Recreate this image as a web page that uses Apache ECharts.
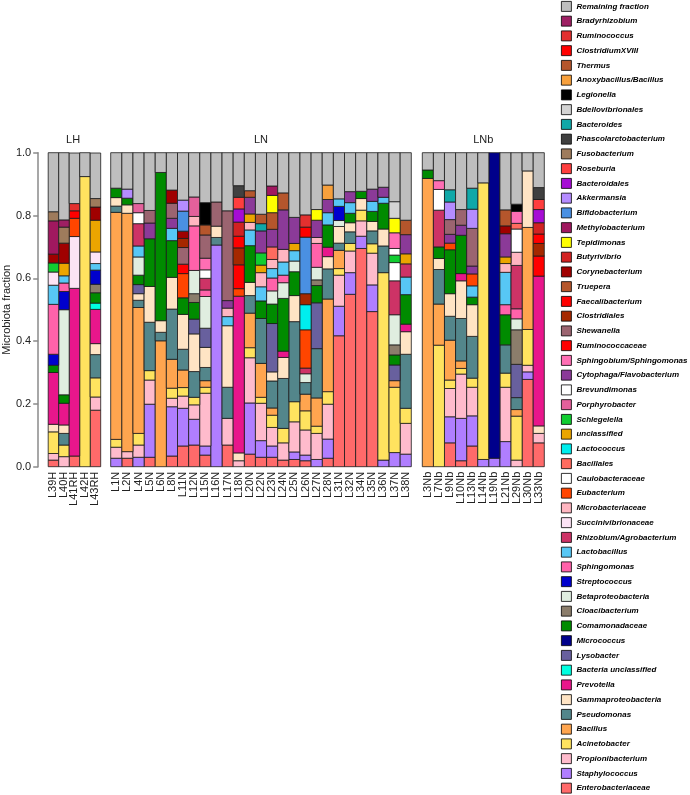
<!DOCTYPE html>
<html><head><meta charset="utf-8">
<script src="https://cdn.jsdelivr.net/npm/echarts@6/dist/echarts.min.js"></script>
<style>html,body{margin:0;padding:0;background:#fff}#c{width:690px;height:795px}</style>
</head><body><div id="c"></div>
<script>
// Legend order (top to bottom); stacking is the reverse (bottom = last)
const taxa = ["Remaining fraction","Bradyrhizobium","Ruminococcus","ClostridiumXVIII","Thermus","Anoxybacillus/Bacillus","Legionella","Bdellovibrionales","Bacteroides","Phascolarctobacterium","Fusobacterium","Roseburia","Bacteroidales","Akkermansia","Bifidobacterium","Methylobacterium","Tepidimonas","Butyrivibrio","Corynebacterium","Truepera","Faecalibacterium","Clostridiales","Shewanella","Ruminococcaceae","Sphingobium/Sphingomonas","Cytophaga/Flavobacterium","Brevundimonas","Porphyrobacter","Schlegelella","unclassified","Lactococcus","Bacillales","Caulobacteraceae","Eubacterium","Microbacteriaceae","Succinivibrionaceae","Rhizobium/Agrobacterium","Lactobacillus","Sphingomonas","Streptococcus","Betaproteobacteria","Cloacibacterium","Comamonadaceae","Micrococcus","Lysobacter","Bacteria unclassified","Prevotella","Gammaproteobacteria","Pseudomonas","Bacillus","Acinetobacter","Propionibacterium","Staphylococcus","Enterobacteriaceae"];
const palette = ["#BEBEBE","#9E1F63","#E3302F","#FF0000","#B5562C","#F7A03C","#000000","#D3D3D3","#10A8A8","#404040","#9E7B5C","#FF3E3E","#A60CD4","#B58CFF","#4A90E2","#A0185F","#FFFF00","#D22222","#A00000","#B5562C","#FF0000","#A52800","#9B6470","#FF0000","#FF6EB4","#8B3A98","#FFFFFF","#E3609B","#10CD30","#EBA500","#00EEEE","#FF6B5F","#FFFFFF","#FF4500","#FFB6C1","#FCE3F5","#CD3366","#57C7F5","#FF62AA","#0000CD","#E0EEE0","#8B7D6B","#008B00","#00008B","#68609E","#00FFE0","#E8168B","#FFE4C4","#53868B","#FFA54F","#FFE35F","#FFBBCC","#B07EFF","#FF6A6A"];

// ---- LH samples ----
const L39H = [["Enterobacteriaceae",0.021],["Propionibacterium",0.021],["Acinetobacter",0.069],["Gammaproteobacteria",0.024],["Prevotella",0.165],["Comamonadaceae",0.023],["Streptococcus",0.035],["Sphingomonas",0.159],["Lactobacillus",0.061],["Succinivibrionaceae",0.042],["Schlegelella",0.029],["Corynebacterium",0.028],["Methylobacterium",0.106],["Fusobacterium",0.029],["Remaining fraction",0.188]];
const L40H = [["Propionibacterium",0.032],["Acinetobacter",0.037],["Pseudomonas",0.037],["Gammaproteobacteria",0.027],["Prevotella",0.069],["Comamonadaceae",0.027],["Betaproteobacteria",0.271],["Streptococcus",0.058],["Sphingomonas",0.027],["Lactobacillus",0.023],["unclassified",0.040],["Corynebacterium",0.064],["Fusobacterium",0.051],["Bradyrhizobium",0.023],["Remaining fraction",0.214]];
const L41RH = [["Enterobacteriaceae",0.034],["Prevotella",0.534],["Succinivibrionaceae",0.165],["Eubacterium",0.058],["ClostridiumXVIII",0.024],["Ruminococcus",0.023],["Remaining fraction",0.161]];
const L42H = [["Acinetobacter",0.924],["Remaining fraction",0.076]];
const L43RH = [["Enterobacteriaceae",0.180],["Propionibacterium",0.042],["Acinetobacter",0.061],["Pseudomonas",0.074],["Gammaproteobacteria",0.035],["Prevotella",0.109],["Bacteria unclassified",0.020],["Comamonadaceae",0.033],["Cloacibacterium",0.027],["Streptococcus",0.045],["Lactobacillus",0.021],["Succinivibrionaceae",0.037],["unclassified",0.101],["Corynebacterium",0.042],["Fusobacterium",0.027],["Remaining fraction",0.145]];

// ---- LN samples ----
const L1N = [["Staphylococcus",0.027],["Propionibacterium",0.035],["Acinetobacter",0.025],["Bacillus",0.723],["Pseudomonas",0.020],["Gammaproteobacteria",0.027],["Comamonadaceae",0.030],["Remaining fraction",0.113]];
const L2N = [["Enterobacteriaceae",0.027],["Propionibacterium",0.021],["Bacillus",0.759],["Gammaproteobacteria",0.027],["Comamonadaceae",0.021],["Akkermansia",0.029],["Remaining fraction",0.116]];
const L4N = [["Staphylococcus",0.030],["Propionibacterium",0.039],["Acinetobacter",0.037],["Bacillus",0.401],["Pseudomonas",0.023],["Gammaproteobacteria",0.021],["Lysobacter",0.029],["Comamonadaceae",0.030],["Betaproteobacteria",0.058],["Lactobacillus",0.035],["Rhizobium/Agrobacterium",0.071],["Caulobacteraceae",0.035],["Porphyrobacter",0.029],["Remaining fraction",0.162]];
const L5N = [["Enterobacteriaceae",0.030],["Staphylococcus",0.169],["Propionibacterium",0.077],["Acinetobacter",0.030],["Pseudomonas",0.154],["Gammaproteobacteria",0.114],["Comamonadaceae",0.152],["Cytophaga/Flavobacterium",0.050],["Shewanella",0.040],["Remaining fraction",0.184]];
const L6N = [["Bacillus",0.401],["Pseudomonas",0.027],["Gammaproteobacteria",0.037],["Comamonadaceae",0.472],["Remaining fraction",0.063]];
const L8N = [["Enterobacteriaceae",0.034],["Staphylococcus",0.157],["Propionibacterium",0.027],["Acinetobacter",0.032],["Bacillus",0.092],["Pseudomonas",0.160],["Gammaproteobacteria",0.101],["Comamonadaceae",0.117],["Lactobacillus",0.039],["Cytophaga/Flavobacterium",0.032],["Shewanella",0.048],["Corynebacterium",0.042],["Remaining fraction",0.119]];
const L11N = [["Enterobacteriaceae",0.066],["Staphylococcus",0.120],["Propionibacterium",0.039],["Acinetobacter",0.027],["Bacillus",0.056],["Pseudomonas",0.066],["Gammaproteobacteria",0.111],["Comamonadaceae",0.053],["Eubacterium",0.077],["Ruminococcaceae",0.030],["Shewanella",0.053],["Clostridiales",0.029],["Corynebacterium",0.023],["Bifidobacterium",0.064],["Akkermansia",0.035],["Remaining fraction",0.151]];
const L12N = [["Enterobacteriaceae",0.069],["Staphylococcus",0.082],["Propionibacterium",0.046],["Acinetobacter",0.024],["Pseudomonas",0.082],["Gammaproteobacteria",0.120],["Lysobacter",0.047],["Comamonadaceae",0.053],["Cloacibacterium",0.028],["Betaproteobacteria",0.074],["Sphingomonas",0.142],["Microbacteriaceae",0.030],["Porphyrobacter",0.062],["Remaining fraction",0.141]];
const L15N = [["Enterobacteriaceae",0.037],["Staphylococcus",0.029],["Propionibacterium",0.168],["Acinetobacter",0.019],["Bacillus",0.021],["Pseudomonas",0.042],["Gammaproteobacteria",0.064],["Lysobacter",0.061],["Betaproteobacteria",0.101],["Sphingomonas",0.021],["Rhizobium/Agrobacterium",0.037],["Caulobacteraceae",0.027],["Sphingobium/Sphingomonas",0.037],["Shewanella",0.074],["Truepera",0.032],["Legionella",0.071],["Remaining fraction",0.159]];
const L16N = [["Staphylococcus",0.706],["Pseudomonas",0.024],["Gammaproteobacteria",0.036],["Shewanella",0.077],["Remaining fraction",0.157]];
const L17N = [["Enterobacteriaceae",0.069],["Propionibacterium",0.085],["Pseudomonas",0.099],["Gammaproteobacteria",0.196],["Lactobacillus",0.029],["Microbacteriaceae",0.027],["Cytophaga/Flavobacterium",0.024],["Shewanella",0.286],["Remaining fraction",0.185]];
const L18N = [["Propionibacterium",0.019],["Gammaproteobacteria",0.025],["Prevotella",0.499],["Eubacterium",0.024],["Ruminococcaceae",0.076],["Clostridiales",0.054],["Faecalibacterium",0.037],["Butyrivibrio",0.045],["Bacteroidales",0.042],["Roseburia",0.037],["Phascolarctobacterium",0.037],["Remaining fraction",0.105]];
const L20N = [["Enterobacteriaceae",0.040],["Staphylococcus",0.163],["Propionibacterium",0.144],["Acinetobacter",0.032],["Bacillus",0.110],["Pseudomonas",0.056],["Gammaproteobacteria",0.042],["Comamonadaceae",0.117],["Lactobacillus",0.050],["Microbacteriaceae",0.024],["unclassified",0.027],["Cytophaga/Flavobacterium",0.053],["Truepera",0.021],["Remaining fraction",0.121]];
const L22N = [["Enterobacteriaceae",0.030],["Staphylococcus",0.053],["Propionibacterium",0.119],["Acinetobacter",0.019],["Bacillus",0.108],["Pseudomonas",0.143],["Comamonadaceae",0.056],["Lactobacillus",0.045],["Microbacteriaceae",0.045],["unclassified",0.024],["Schlegelella",0.039],["Cytophaga/Flavobacterium",0.070],["Bacteroides",0.023],["Thermus",0.030],["Remaining fraction",0.196]];
const L23N = [["Enterobacteriaceae",0.030],["Staphylococcus",0.036],["Propionibacterium",0.059],["Acinetobacter",0.039],["Bacillus",0.023],["Pseudomonas",0.086],["Gammaproteobacteria",0.029],["Lysobacter",0.154],["Comamonadaceae",0.062],["Betaproteobacteria",0.042],["Sphingomonas",0.041],["Lactobacillus",0.030],["Microbacteriaceae",0.029],["Bacillales",0.040],["Cytophaga/Flavobacterium",0.056],["Truepera",0.053],["Tepidimonas",0.055],["Methylobacterium",0.030],["Remaining fraction",0.106]];
const L24N = [["Enterobacteriaceae",0.021],["Propionibacterium",0.055],["Acinetobacter",0.046],["Pseudomonas",0.159],["Gammaproteobacteria",0.067],["Prevotella",0.020],["Comamonadaceae",0.168],["Betaproteobacteria",0.050],["Sphingomonas",0.024],["Lactobacillus",0.042],["Microbacteriaceae",0.040],["Cytophaga/Flavobacterium",0.126],["Truepera",0.054],["Remaining fraction",0.128]];
const L25N = [["Enterobacteriaceae",0.023],["Staphylococcus",0.024],["Propionibacterium",0.096],["Acinetobacter",0.064],["Pseudomonas",0.255],["Gammaproteobacteria",0.083],["Comamonadaceae",0.076],["Betaproteobacteria",0.034],["Lactobacillus",0.033],["unclassified",0.023],["Cytophaga/Flavobacterium",0.083],["Remaining fraction",0.206]];
const L26N = [["Enterobacteriaceae",0.019],["Staphylococcus",0.018],["Propionibacterium",0.080],["Acinetobacter",0.061],["Bacillus",0.053],["Pseudomonas",0.037],["Betaproteobacteria",0.028],["Rhizobium/Agrobacterium",0.018],["Eubacterium",0.122],["Lactococcus",0.080],["Clostridiales",0.035],["Bifidobacterium",0.180],["ClostridiumXVIII",0.032],["Ruminococcus",0.039],["Remaining fraction",0.198]];
const L27N = [["Staphylococcus",0.023],["Propionibacterium",0.083],["Acinetobacter",0.023],["Bacillus",0.090],["Pseudomonas",0.157],["Lysobacter",0.146],["Comamonadaceae",0.055],["Cloacibacterium",0.018],["Betaproteobacteria",0.040],["Sphingomonas",0.076],["Microbacteriaceae",0.019],["Cytophaga/Flavobacterium",0.055],["Tepidimonas",0.034],["Remaining fraction",0.181]];
const L28N = [["Enterobacteriaceae",0.027],["Staphylococcus",0.061],["Propionibacterium",0.111],["Acinetobacter",0.040],["Bacillus",0.295],["Pseudomonas",0.096],["Gammaproteobacteria",0.039],["Prevotella",0.030],["Comamonadaceae",0.071],["Lactobacillus",0.039],["Cytophaga/Flavobacterium",0.042],["Anoxybacillus/Bacillus",0.046],["Remaining fraction",0.103]];
const L31N = [["Enterobacteriaceae",0.417],["Staphylococcus",0.094],["Propionibacterium",0.099],["Acinetobacter",0.021],["Bacillus",0.058],["Pseudomonas",0.023],["Gammaproteobacteria",0.053],["Betaproteobacteria",0.019],["Streptococcus",0.045],["Lactobacillus",0.024],["Remaining fraction",0.147]];
const L32N = [["Enterobacteriaceae",0.549],["Staphylococcus",0.069],["Propionibacterium",0.069],["Acinetobacter",0.024],["Pseudomonas",0.037],["Gammaproteobacteria",0.029],["Comamonadaceae",0.030],["Lactobacillus",0.034],["Cytophaga/Flavobacterium",0.035],["Remaining fraction",0.124]];
const L34N = [["Enterobacteriaceae",0.695],["Staphylococcus",0.039],["Propionibacterium",0.049],["Acinetobacter",0.034],["Gammaproteobacteria",0.037],["Comamonadaceae",0.023],["Remaining fraction",0.123]];
const L35N = [["Enterobacteriaceae",0.494],["Staphylococcus",0.085],["Propionibacterium",0.101],["Acinetobacter",0.030],["Pseudomonas",0.041],["Gammaproteobacteria",0.030],["Comamonadaceae",0.032],["Lactobacillus",0.032],["Cytophaga/Flavobacterium",0.039],["Remaining fraction",0.116]];
const L36N = [["Staphylococcus",0.021],["Acinetobacter",0.597],["Pseudomonas",0.085],["Gammaproteobacteria",0.054],["Comamonadaceae",0.082],["Lactobacillus",0.019],["Cytophaga/Flavobacterium",0.032],["Remaining fraction",0.110]];
const L37N = [["Staphylococcus",0.045],["Acinetobacter",0.208],["Bacillus",0.021],["Lysobacter",0.050],["Comamonadaceae",0.032],["Cloacibacterium",0.032],["Betaproteobacteria",0.096],["Rhizobium/Agrobacterium",0.108],["Caulobacteraceae",0.058],["Schlegelella",0.024],["Brevundimonas",0.021],["Sphingobium/Sphingomonas",0.050],["Tepidimonas",0.046],["Bdellovibrionales",0.053],["Remaining fraction",0.156]];
const L38N = [["Staphylococcus",0.040],["Propionibacterium",0.098],["Acinetobacter",0.048],["Pseudomonas",0.172],["Gammaproteobacteria",0.072],["Prevotella",0.024],["Comamonadaceae",0.094],["Lactobacillus",0.056],["Rhizobium/Agrobacterium",0.042],["unclassified",0.032],["Cytophaga/Flavobacterium",0.061],["Truepera",0.046],["Remaining fraction",0.215]];

// ---- LNb samples ----
const L3Nb = [["Bacillus",0.918],["Comamonadaceae",0.027],["Remaining fraction",0.055]];
const L7Nb = [["Acinetobacter",0.387],["Bacillus",0.131],["Pseudomonas",0.110],["Gammaproteobacteria",0.035],["Comamonadaceae",0.037],["Rhizobium/Agrobacterium",0.117],["Caulobacteraceae",0.066],["Sphingobium/Sphingomonas",0.028],["Remaining fraction",0.089]];
const L9Nb = [["Enterobacteriaceae",0.076],["Staphylococcus",0.083],["Propionibacterium",0.090],["Acinetobacter",0.027],["Bacillus",0.127],["Pseudomonas",0.076],["Gammaproteobacteria",0.072],["Comamonadaceae",0.140],["Eubacterium",0.021],["Cytophaga/Flavobacterium",0.028],["Shewanella",0.047],["Akkermansia",0.056],["Bacteroides",0.039],["Remaining fraction",0.118]];
const L10Nb = [["Enterobacteriaceae",0.019],["Staphylococcus",0.135],["Propionibacterium",0.141],["Acinetobacter",0.018],["Bacillus",0.024],["Pseudomonas",0.135],["Gammaproteobacteria",0.120],["Prevotella",0.023],["Comamonadaceae",0.122],["Cytophaga/Flavobacterium",0.032],["Shewanella",0.050],["Remaining fraction",0.181]];
const L13Nb = [["Enterobacteriaceae",0.066],["Staphylococcus",0.096],["Propionibacterium",0.091],["Acinetobacter",0.029],["Pseudomonas",0.133],["Gammaproteobacteria",0.101],["Comamonadaceae",0.024],["Lactobacillus",0.036],["Eubacterium",0.038],["Cytophaga/Flavobacterium",0.025],["Shewanella",0.120],["Akkermansia",0.061],["Bacteroides",0.067],["Remaining fraction",0.113]];
const L14Nb = [["Staphylococcus",0.023],["Acinetobacter",0.881],["Remaining fraction",0.096]];
const L19Nb = [["Staphylococcus",0.027],["Micrococcus",0.973]];
const L21Nb = [["Staphylococcus",0.080],["Propionibacterium",0.173],["Acinetobacter",0.045],["Pseudomonas",0.090],["Comamonadaceae",0.096],["Sphingomonas",0.032],["Lactobacillus",0.103],["Microbacteriaceae",0.028],["unclassified",0.021],["Cytophaga/Flavobacterium",0.074],["Corynebacterium",0.025],["Thermus",0.051],["Remaining fraction",0.182]];
const L29Nb = [["Propionibacterium",0.021],["Acinetobacter",0.140],["Bacillus",0.021],["Pseudomonas",0.038],["Lysobacter",0.106],["Cloacibacterium",0.110],["Betaproteobacteria",0.035],["Sphingomonas",0.032],["Rhizobium/Agrobacterium",0.138],["Microbacteriaceae",0.042],["Caulobacteraceae",0.074],["Bacillales",0.018],["Sphingobium/Sphingomonas",0.038],["Legionella",0.023],["Remaining fraction",0.164]];
const L30Nb = [["Enterobacteriaceae",0.278],["Staphylococcus",0.024],["Propionibacterium",0.021],["Acinetobacter",0.114],["Bacillus",0.325],["Gammaproteobacteria",0.180],["Remaining fraction",0.058]];
const L33Nb = [["Enterobacteriaceae",0.076],["Propionibacterium",0.030],["Gammaproteobacteria",0.024],["Prevotella",0.477],["Ruminococcaceae",0.064],["Clostridiales",0.040],["Faecalibacterium",0.030],["Butyrivibrio",0.036],["Bacteroidales",0.042],["Roseburia",0.032],["Phascolarctobacterium",0.038],["Remaining fraction",0.111]];

const panelTitles = ["LH","LN","LNb"];
const samplesLH = ["L39H","L40H","L41RH","L42H","L43RH"];
const samplesLN = ["L1N","L2N","L4N","L5N","L6N","L8N","L11N","L12N","L15N","L16N","L17N","L18N","L20N","L22N","L23N","L24N","L25N","L26N","L27N","L28N","L31N","L32N","L34N","L35N","L36N","L37N","L38N"];
const samplesLNb = ["L3Nb","L7Nb","L9Nb","L10Nb","L13Nb","L14Nb","L19Nb","L21Nb","L29Nb","L30Nb","L33Nb"];
const valuesLH = [L39H,L40H,L41RH,L42H,L43RH];
const valuesLN = [L1N,L2N,L4N,L5N,L6N,L8N,L11N,L12N,L15N,L16N,L17N,L18N,L20N,L22N,L23N,L24N,L25N,L26N,L27N,L28N,L31N,L32N,L34N,L35N,L36N,L37N,L38N];
const valuesLNb = [L3Nb,L7Nb,L9Nb,L10Nb,L13Nb,L14Nb,L19Nb,L21Nb,L29Nb,L30Nb,L33Nb];

// ---- layout ----
const FONT = "'Liberation Sans', Arial, Helvetica, sans-serif";
const gridTop = 152.7, gridH = 314;
const gridBoxes = [{left:45.5,width:55.2},{left:110.7,width:300.6},{left:422.3,width:122}];
const panels = [
  {samples:samplesLH, values:valuesLH},
  {samples:samplesLN, values:valuesLN},
  {samples:samplesLNb, values:valuesLNb}
];

const grid = gridBoxes.map(b => ({left:b.left, width:b.width, top:gridTop, height:gridH, containLabel:false}));
const xAxis = panels.map((p,i) => ({
  type:'category', gridIndex:i, data:p.samples,
  axisLine:{show:false}, axisTick:{show:false},
  axisLabel:{rotate:90, interval:0, fontSize:11, color:'#222', margin:5, fontFamily:FONT}
}));
const yAxis = panels.map((p,i) => i===0 ? ({
  type:'value', gridIndex:0, min:0, max:1, interval:0.2, offset:10,
  axisLine:{show:true, lineStyle:{color:'#8a8a8a', width:1.5}},
  axisTick:{show:true, length:5, lineStyle:{color:'#8a8a8a', width:1.5}},
  axisLabel:{formatter:v=>v.toFixed(1), fontSize:11, color:'#222', margin:7, fontFamily:FONT},
  splitLine:{show:false},
  name:'Microbiota fraction', nameLocation:'middle', nameGap:17,
  nameTextStyle:{fontSize:11, color:'#222', fontFamily:FONT}
}) : ({type:'value', gridIndex:i, min:0, max:1, show:false, splitLine:{show:false}}));

// Stacked segments drawn through the axes' own scales (api.coord / api.size)
function renderSegment(params, api) {
  const c = api.value(0), lo = api.value(1), hi = api.value(2);
  const pLo = api.coord([c, lo]);
  const pHi = api.coord([c, hi]);
  const w = api.size([1, 0])[0];
  return {
    type:'rect',
    shape:{x:pLo[0] - w/2, y:pHi[1], width:w, height:pLo[1] - pHi[1]},
    style: api.style({stroke:'#1a1a1a', lineWidth:0.8})
  };
}

const stackOrder = taxa.slice().reverse();
const series = [];
panels.forEach((p,pi) => {
  const maps = p.values.map(arr => Object.fromEntries(arr));
  const base = p.samples.map(() => 0);
  const perTaxon = {};
  stackOrder.forEach(t => {
    const items = [];
    maps.forEach((m, si) => {
      const v = m[t];
      if (v != null && v > 0) {
        items.push([si, base[si], base[si] + v]);
        base[si] += v;
      }
    });
    perTaxon[t] = items;
  });
  stackOrder.forEach(t => {
    series.push({
      type:'custom', name:t, xAxisIndex:pi, yAxisIndex:pi,
      renderItem: renderSegment,
      encode:{x:0, y:[1,2]},
      data: perTaxon[t],
      itemStyle:{color:palette[taxa.indexOf(t)], borderColor:'#1a1a1a', borderWidth:0.8},
      emphasis:{disabled:true},
      silent:true
    });
  });
});

const graphic = panelTitles.map((t,i) => ({
  type:'text', x: gridBoxes[i].left + gridBoxes[i].width/2, y: 140,
  style:{text:t, textAlign:'center', textVerticalAlign:'middle', font:'11px '+FONT, fill:'#222'}
}));

const option = {
  animation:false,
  backgroundColor:'#fff',
  textStyle:{fontFamily:FONT},
  grid, xAxis, yAxis, series, graphic,
  legend:{
    data:taxa, orient:'vertical', left:561, top:1, padding:0, icon:'rect',
    itemWidth:10, itemHeight:10, itemGap:3.95, selectedMode:false,
    itemStyle:{borderColor:'#000', borderWidth:0.8},
    textStyle:{fontSize:8, fontWeight:'bold', fontStyle:'italic', color:'#000', lineHeight:10, fontFamily:FONT}
  }
};
const chart = echarts.init(document.getElementById('c'), null, {renderer:'canvas'});
chart.setOption(option);
</script>
</body></html>
